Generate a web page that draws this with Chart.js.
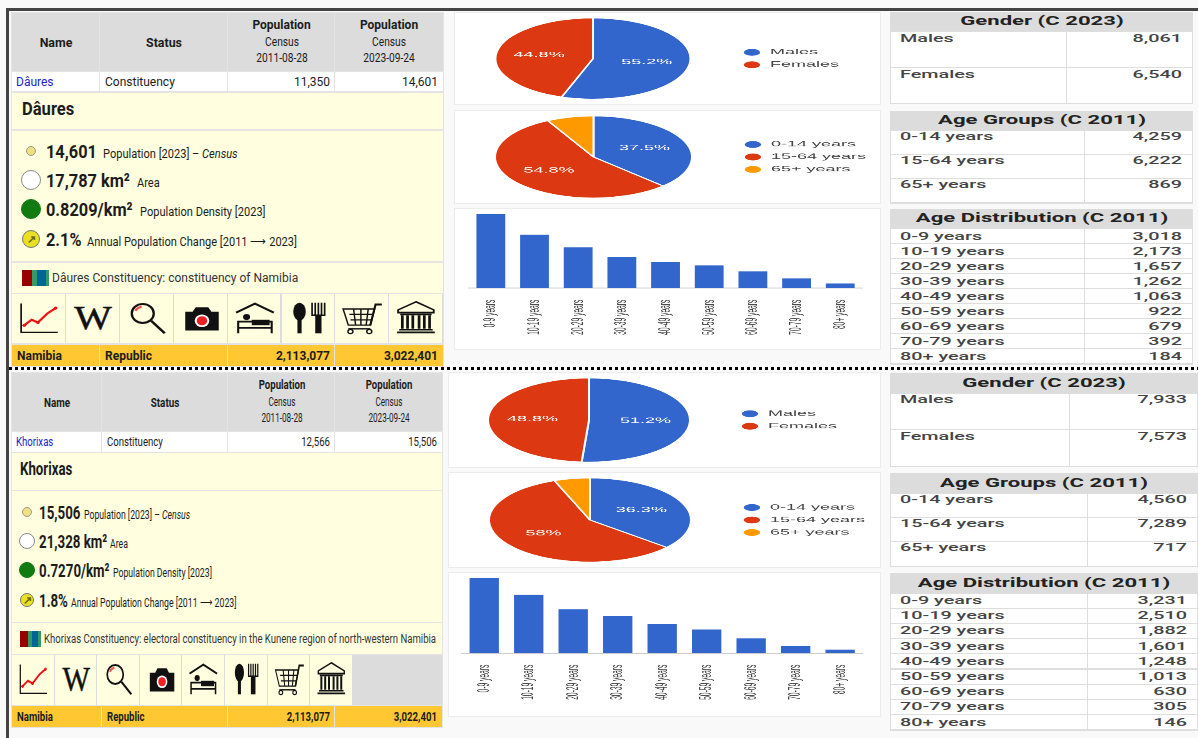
<!DOCTYPE html>
<html>
<head>
<meta charset="utf-8">
<title>Namibia constituencies</title>
<script src="https://cdn.jsdelivr.net/npm/chart.js@4"></script>
<style>
  html, body { margin: 0; padding: 0; background: #fff; }
  #page { position: relative; width: 1198px; height: 738px; overflow: hidden; background: #f9f9f9; font-family: Roboto, sans-serif; color: #111; }
  .box, .t, .wrap, svg { position: absolute; }
  .t { white-space: nowrap; line-height: 1; }
  .wrap { transform-origin: 0 0; transform: scaleY(0.416); }
</style>
</head>
<body>
<div id="page"></div>
<script>
// data
const genderLabels = ['Males', 'Females'];
const ageGroupLabels = ['0-14 years', '15-64 years', '65+ years'];
const ageDistLabels = ['0-9 years', '10-19 years', '20-29 years', '30-39 years', '40-49 years', '50-59 years', '60-69 years', '70-79 years', '80+ years'];

const daGender = [8061, 6540];
const daAgeGroups = [4259, 6222, 869];
const daAgeDist = [3018, 2173, 1657, 1262, 1063, 922, 679, 392, 184];
const daPopulation = [11350, 14601];

const khGender = [7933, 7573];
const khAgeGroups = [4560, 7289, 717];
const khAgeDist = [3231, 2510, 1882, 1601, 1248, 1013, 630, 305, 146];
const khPopulation = [12566, 15506];

const namibiaPopulation = [2113077, 3022401];

const BLUE = '#3366cc', RED = '#dc3912', ORANGE = '#ff9900';
const page = document.getElementById('page');
const fmt = n => n.toLocaleString('en-US');

function box(x, y, w, h, color) {
  const d = document.createElement('div');
  d.className = 'box';
  d.style.cssText = `left:${x}px;top:${y}px;width:${w}px;height:${h}px;background:${color}`;
  page.appendChild(d);
  return d;
}

// y is the middle of the text, sx squeezes or stretches it sideways
function text(x, y, str, o = {}) {
  const d = document.createElement('div');
  d.className = 't';
  const align = o.align || 'left';
  const tx = align == 'right' ? '-100%' : align == 'center' ? '-50%' : '0';
  d.style.cssText = `left:${x}px;top:${y}px;font-size:${o.size || 12}px;font-weight:${o.weight || 400};color:${o.color || '#1c1c1c'};` +
    `transform-origin:${align} center;transform:translate(${tx},-50%) scaleX(${o.sx || 1})`;
  d.innerHTML = str;
  page.appendChild(d);
}

function icons(kind) {
  const s = {
    chart: '<path d="M3 4V36H38" fill="none" stroke="#111" stroke-width="1.6"/><path d="M5 29L13 22L19 25L28 15L36 9" fill="none" stroke="#e11" stroke-width="2.2"/><circle cx="6" cy="28" r="1.7" fill="#e11"/><circle cx="19" cy="25" r="1.7" fill="#e11"/><circle cx="36" cy="9" r="1.7" fill="#e11"/>',
    wiki: '<text x="20" y="32" font-family="Liberation Serif" font-size="38" text-anchor="middle" fill="#111" stroke="#111" stroke-width="0.5">W</text>',
    search: '<circle cx="16" cy="15" r="10.5" fill="none" stroke="#111" stroke-width="2.2"/><path d="M9 12A8 8 0 0 1 15 7.5" fill="none" stroke="#e55" stroke-width="2.2"/><path d="M24 23L37 37" stroke="#111" stroke-width="2.6"/>',
    camera: '<path d="M5 13H12L15 8H27L30 13H37V34H5Z" fill="#111"/><circle cx="21" cy="23" r="7" fill="#fff"/><circle cx="21" cy="23" r="5" fill="#e22"/>',
    bed: '<path d="M2 14L20 4L38 14" fill="none" stroke="#111" stroke-width="2.2"/><path d="M4 37V24H36V37M4 31H36" fill="none" stroke="#111" stroke-width="2"/><circle cx="12" cy="19" r="3.4" fill="#111"/><path d="M17 22H34V28H17Z" fill="#111"/>',
    food: '<ellipse cx="11" cy="13" rx="6" ry="10" fill="#111"/><path d="M9 20H13V37H9Z" fill="#111"/><path d="M23 3V17H35V3M26 3V17M29 3V17M32 3V17" fill="none" stroke="#111" stroke-width="1.6"/><path d="M26 17H32V37H26Z" fill="#111"/>',
    cart: '<path d="M2 10H32L28 28H7Z M8 16H30 M9 22H29 M12 10L14 28 M19 10V28 M26 10L24 28" fill="none" stroke="#111" stroke-width="1.4"/><path d="M28 28L33 5H39" fill="none" stroke="#111" stroke-width="2"/><path d="M7 32H28" stroke="#111" stroke-width="1.6"/><circle cx="9" cy="35" r="2.4" fill="none" stroke="#111" stroke-width="1.4"/><circle cx="27" cy="35" r="2.4" fill="none" stroke="#111" stroke-width="1.4"/>',
    museum: '<path d="M20 2L37 11V14H3V11Z" fill="none" stroke="#111" stroke-width="1.8"/><path d="M5 16H35M4 33H36M2 36H38" stroke="#111" stroke-width="1.8"/><path d="M7 17V32M12 17V32M17 17V32M23 17V32M28 17V32M33 17V32" stroke="#111" stroke-width="2.6"/>'
  };
  return s[kind];
}
const iconKinds = ['chart', 'wiki', 'search', 'camera', 'bed', 'food', 'cart', 'museum'];

function leftPanel(o) {
  const c = o.cols, W = c[4] - c[0];
  box(c[0] - 1, o.head[0] - 1, W + 2, o.foot[1] - o.head[0] + 2, '#e4e4e4');
  // header, data row and footer share the same four columns
  for (let i = 0; i < 4; i++) {
    const x = c[i], w = c[i + 1] - c[i] - (i < 3 ? 1 : 0);
    box(x, o.head[0], w, o.head[1] - o.head[0], '#dcdcdc');
    box(x, o.row[0], w, o.row[1] - o.row[0], '#fff');
    box(x, o.foot[0], w, o.foot[1] - o.foot[0], '#ffc832');
  }
  const yellow = '#ffffe0';
  box(c[0], o.title[0], W, o.title[1] - o.title[0], yellow);
  box(c[0], o.stats[0], W, o.stats[1] - o.stats[0], yellow);
  box(c[0], o.desc[0], W, o.desc[1] - o.desc[0], yellow);

  const sx = o.sx, hy = (o.head[0] + o.head[1]) / 2;
  text((c[0] + c[1]) / 2, hy, 'Name', { weight: 700, size: 13, sx: sx * 0.95, align: 'center' });
  text((c[1] + c[2]) / 2, hy, 'Status', { weight: 700, size: 13, sx: sx * 0.95, align: 'center' });
  [[o.dates[0], 2], [o.dates[1], 3]].forEach(([date, i]) => {
    const mx = (c[i] + c[i + 1]) / 2;
    text(mx, hy - 17, 'Population', { weight: 700, size: 12, sx: sx, align: 'center' });
    text(mx, hy, 'Census', { size: 12, sx: sx * 0.85, align: 'center' });
    text(mx, hy + 16, date, { size: 12, sx: sx * 0.85, align: 'center' });
  });
  const ry = (o.row[0] + o.row[1]) / 2, fy = (o.foot[0] + o.foot[1]) / 2;
  text(c[0] + 4, ry, o.name, { color: '#2222cc', sx: sx });
  text(c[1] + 5, ry, 'Constituency', { sx: sx });
  text(c[3] - 5, ry, fmt(o.pop[0]), { sx: sx, align: 'right' });
  text(c[4] - 5, ry, fmt(o.pop[1]), { sx: sx, align: 'right' });
  text(c[0] + 5, fy, 'Namibia', { weight: 700, sx: sx });
  text(c[1] + 5, fy, 'Republic', { weight: 700, sx: sx });
  text(c[3] - 5, fy, fmt(namibiaPopulation[0]), { weight: 700, sx: sx, align: 'right' });
  text(c[4] - 5, fy, fmt(namibiaPopulation[1]), { weight: 700, sx: sx, align: 'right' });

  text(c[0] + o.titleX, (o.title[0] + o.title[1]) / 2 - 2.5, o.name, { weight: 700, size: 18, sx: sx * 0.92 });

  // stat lines: dot, big value, small caption
  const dots = [[5, '#f0e080', '#999'], [o.r, '#fff', '#888'], [o.r, '#117a11', '#117a11'], [o.r - 1, '#e8e020', '#777']];
  o.stat.forEach((s, i) => {
    const y = o.statY[i];
    const d = box(o.dotX - dots[i][0], y - dots[i][0], dots[i][0] * 2, dots[i][0] * 2, dots[i][1]);
    d.style.borderRadius = '50%';
    d.style.boxSizing = 'border-box';
    d.style.border = '1px solid ' + dots[i][2];
    text(o.valX, y, s[0], { weight: 700, size: 19, sx: o.bigSx });
    text(s[2], y + 2, s[1], { size: 13, sx: o.smallSx });
  });
  text(o.dotX, o.statY[3], '↗', { size: 11, weight: 700, color: '#6a6a20', align: 'center' });

  // wikidata style barcode and the description line
  const dy = (o.desc[0] + o.desc[1]) / 2;
  const bx = c[0] + o.barX, k = o.barW / 25;
  box(bx, dy - 8, 9 * k, 16, '#990000');
  box(bx + 9 * k, dy - 8, 5 * k, 16, '#339966');
  box(bx + 14 * k, dy - 8, 8 * k, 16, '#006699');
  box(bx + 22 * k, dy - 8, 3 * k, 16, '#339966');
  text(bx + o.barW + 3, dy, o.descText, { size: 12, sx: o.descSx, color: '#333' });

  // icon strip
  const cellW = o.cellW, ih = o.icons[1] - o.icons[0];
  box(c[0], o.icons[0], W, ih, '#dcdcdc');
  iconKinds.forEach((k, i) => {
    box(c[0] + i * cellW, o.icons[0], cellW - 1, ih, yellow);
    const svg = document.createElementNS('http://www.w3.org/2000/svg', 'svg');
    svg.setAttribute('viewBox', '0 0 40 40');
    svg.setAttribute('preserveAspectRatio', 'none');
    svg.setAttribute('width', cellW - 12);
    svg.setAttribute('height', 36);
    svg.style.left = (c[0] + i * cellW + 6) + 'px';
    svg.style.top = (o.icons[0] + 6) + 'px';
    svg.innerHTML = icons(k);
    page.appendChild(svg);
  });
}

function rightTable(o, rows, title, y0, yEnd, split, rowH, textDy) {
  const x0 = o.x0, x1 = o.x1;
  box(x0 - 1, y0, x1 - x0 + 2, yEnd - y0 + 1, '#dedede');
  box(x0, y0, x1 - x0, o.headH, '#dcdcdc');
  text((x0 + x1) / 2, y0 + o.headH / 2 - 0.5, title, { weight: 700, size: 12, sx: 1.84, align: 'center', color: '#222' });
  rows.labels.forEach((lab, i) => {
    const y = y0 + o.headH + i * rowH;
    box(x0, y + 0.5, split - x0 - 1, rowH - 1, '#fff');
    box(split, y + 0.5, x1 - split, rowH - 1, '#fff');
    text(x0 + 9, y + textDy, lab, { weight: 500, size: 11.5, sx: 1.72, color: '#444' });
    text(x1 - o.pad, y + textDy, fmt(rows.values[i]), { weight: 500, size: 11.5, sx: 1.72, color: '#444', align: 'right' });
  });
}

// the reference charts are flattened vertically, so each one is drawn tall and squeezed with css
const SQUEEZE = 0.416;
function addCanvas(x, y, w, h) {
  box(x, y, w, h, '#fff').style.boxShadow = '0 0 0 1px #ececec';
  const wrap = document.createElement('div');
  wrap.className = 'wrap';
  wrap.style.left = x + 'px';
  wrap.style.top = y + 'px';
  const cv = document.createElement('canvas');
  const nativeH = Math.round(h / SQUEEZE);
  cv.width = w;
  cv.height = nativeH;
  cv.style.cssText = `display:block;width:${w}px;height:${nativeH}px`;
  wrap.appendChild(cv);
  page.appendChild(wrap);
  return cv;
}

const pieLabels = {
  id: 'pieLabels',
  afterDatasetsDraw(chart) {
    const ctx = chart.ctx, ds = chart.data.datasets[0];
    const total = ds.data.reduce((a, b) => a + b, 0);
    ctx.save();
    ctx.font = '18px Arial, "Liberation Sans", sans-serif';
    ctx.fillStyle = '#fff';
    ctx.textAlign = 'center';
    ctx.textBaseline = 'middle';
    chart.getDatasetMeta(0).data.forEach((arc, i) => {
      const pct = ds.data[i] / total * 100;
      if (pct < 10) return;
      const mid = (arc.startAngle + arc.endAngle) / 2;
      const r = arc.outerRadius * 0.56;
      ctx.fillText(+pct.toFixed(1) + '%', arc.x + Math.cos(mid) * r, arc.y + Math.sin(mid) * r);
    });
    ctx.restore();
  }
};

// cx and markerX are page x positions of the pie centre and the legend markers
function pie(x, y, w, h, labels, values, colors, cx, markerX, legendW) {
  const cv = addCanvas(x, y, w, h);
  const areaRight = markerX - x - 9 - 12;
  new Chart(cv, {
    type: 'pie',
    plugins: [pieLabels],
    data: { labels: labels, datasets: [{ data: values, backgroundColor: colors, borderColor: '#fff', borderWidth: 2 }] },
    options: {
      responsive: false,
      animation: false,
      layout: { padding: { top: 11, bottom: 11, left: 2 * (cx - x) - areaRight, right: w - areaRight - legendW } },
      plugins: {
        tooltip: { enabled: false },
        legend: {
          position: 'right',
          labels: { usePointStyle: true, pointStyle: 'circle', boxWidth: 18, boxHeight: 13, padding: 12, color: '#444', font: { size: 18, family: 'Arial, "Liberation Sans", sans-serif' } }
        }
      }
    }
  });
}

function bars(x, y, w, h, labels, values, axisL, axisR, barTop, baseline) {
  const cv = addCanvas(x, y, w, h);
  const nh = Math.round(h / SQUEEZE);
  new Chart(cv, {
    type: 'bar',
    data: { labels: labels, datasets: [{ data: values, backgroundColor: BLUE, barPercentage: 0.66, categoryPercentage: 1 }] },
    options: {
      responsive: false,
      animation: false,
      layout: { autoPadding: false, padding: { top: (barTop - y) / SQUEEZE, left: axisL - x, right: x + w - axisR, bottom: 0 } },
      plugins: { legend: { display: false }, tooltip: { enabled: false } },
      scales: {
        y: { display: false, min: 0, max: Math.max(...values) },
        x: {
          grid: { display: false },
          border: { color: '#999', width: 1.5 },
          afterFit(scale) { scale.height = nh - (baseline - y) / SQUEEZE; },
          ticks: { minRotation: 90, maxRotation: 90, autoSkip: false, padding: 20, color: '#444', font: { size: 16, family: 'Arial, "Liberation Sans", sans-serif' } }
        }
      }
    }
  });
}

// frame
box(6, 8, 1192, 3, '#444');
box(6, 8, 3, 730, '#444');

leftPanel({
  cols: [12, 100, 228, 335, 443], head: [13, 71], row: [72, 91], title: [93, 129], stats: [131, 261],
  desc: [263, 293], icons: [294, 343], foot: [345, 366], name: 'Dâures', pop: daPopulation,
  dates: ['2011-08-28', '2023-09-24'], sx: 1, titleX: 10, r: 10, dotX: 31, valX: 46, bigSx: 0.86, smallSx: 0.85,
  statY: [151, 180, 209, 239], cellW: 53.9, barX: 10, barW: 27, descSx: 1.0,
  stat: [['14,601', 'Population [2023] – <i>Census</i>', 103], ['17,787 km²', 'Area', 137], ['0.8209/km²', 'Population Density [2023]', 140], ['2.1%', 'Annual Population Change [2011 ⟶ 2023]', 87]],
  descText: 'Dâures Constituency: constituency of Namibia'
});
leftPanel({
  cols: [12, 102, 228, 335, 442], head: [373, 431], row: [432, 452], title: [453, 490], stats: [491, 622],
  desc: [623, 654], icons: [655, 705], foot: [706, 727], name: 'Khorixas', pop: khPopulation,
  dates: ['2011-08-28', '2023-09-24'], sx: 0.8, titleX: 8, r: 8, dotX: 27, valX: 39, bigSx: 0.7, smallSx: 0.67,
  statY: [512, 541, 570, 600], cellW: 42.6, barX: 8, barW: 21, descSx: 0.795,
  stat: [['15,506', 'Population [2023] – <i>Census</i>', 84], ['21,328 km²', 'Area', 110], ['0.7270/km²', 'Population Density [2023]', 113], ['1.8%', 'Annual Population Change [2011 ⟶ 2023]', 71]],
  descText: 'Khorixas Constituency: electoral constituency in the Kunene region of north-western Namibia'
});

// charts
pie(455, 13, 425, 91, genderLabels, daGender, [BLUE, RED], 590, 752, 118);
pie(455, 111, 425, 92, ageGroupLabels, daAgeGroups, [BLUE, RED, ORANGE], 590, 751, 146);
bars(455, 209, 425, 140, ageDistLabels, daAgeDist, 469, 870, 214, 288);
pie(449, 373, 431, 94, genderLabels, khGender, [BLUE, RED], 584, 750, 118);
pie(449, 473, 431, 94, ageGroupLabels, khAgeGroups, [BLUE, RED, ORANGE], 584, 750, 146);
bars(449, 573, 431, 143, ageDistLabels, khAgeDist, 462, 868, 578, 653);

// right hand tables
const rtTop = { x0: 891, x1: 1192, headH: 19, pad: 10 };
rightTable(rtTop, { labels: genderLabels, values: daGender }, 'Gender (C 2023)', 12, 103, 1067, 36, 7.5);
rightTable(rtTop, { labels: ageGroupLabels, values: daAgeGroups }, 'Age Groups (C 2011)', 111, 203, 1085, 24.3, 6.5);
rightTable(rtTop, { labels: ageDistLabels, values: daAgeDist }, 'Age Distribution (C 2011)', 209, 364, 1085, 15.1, 8.5);
const rtBot = { x0: 891, x1: 1197, headH: 20, pad: 10 };
rightTable(rtBot, { labels: genderLabels, values: khGender }, 'Gender (C 2023)', 373, 466, 1070, 36.5, 7);
rightTable(rtBot, { labels: ageGroupLabels, values: khAgeGroups }, 'Age Groups (C 2011)', 473, 566, 1088, 24.4, 6.5);
rightTable(rtBot, { labels: ageDistLabels, values: khAgeDist }, 'Age Distribution (C 2011)', 573, 730, 1088, 15.2, 8);

// dotted divider between the two screenshots
const divider = box(9, 367, 1189, 3, 'transparent');
divider.style.background = 'repeating-linear-gradient(90deg,#000 0 3px,transparent 3px 6px)';
</script>
</body>
</html>
